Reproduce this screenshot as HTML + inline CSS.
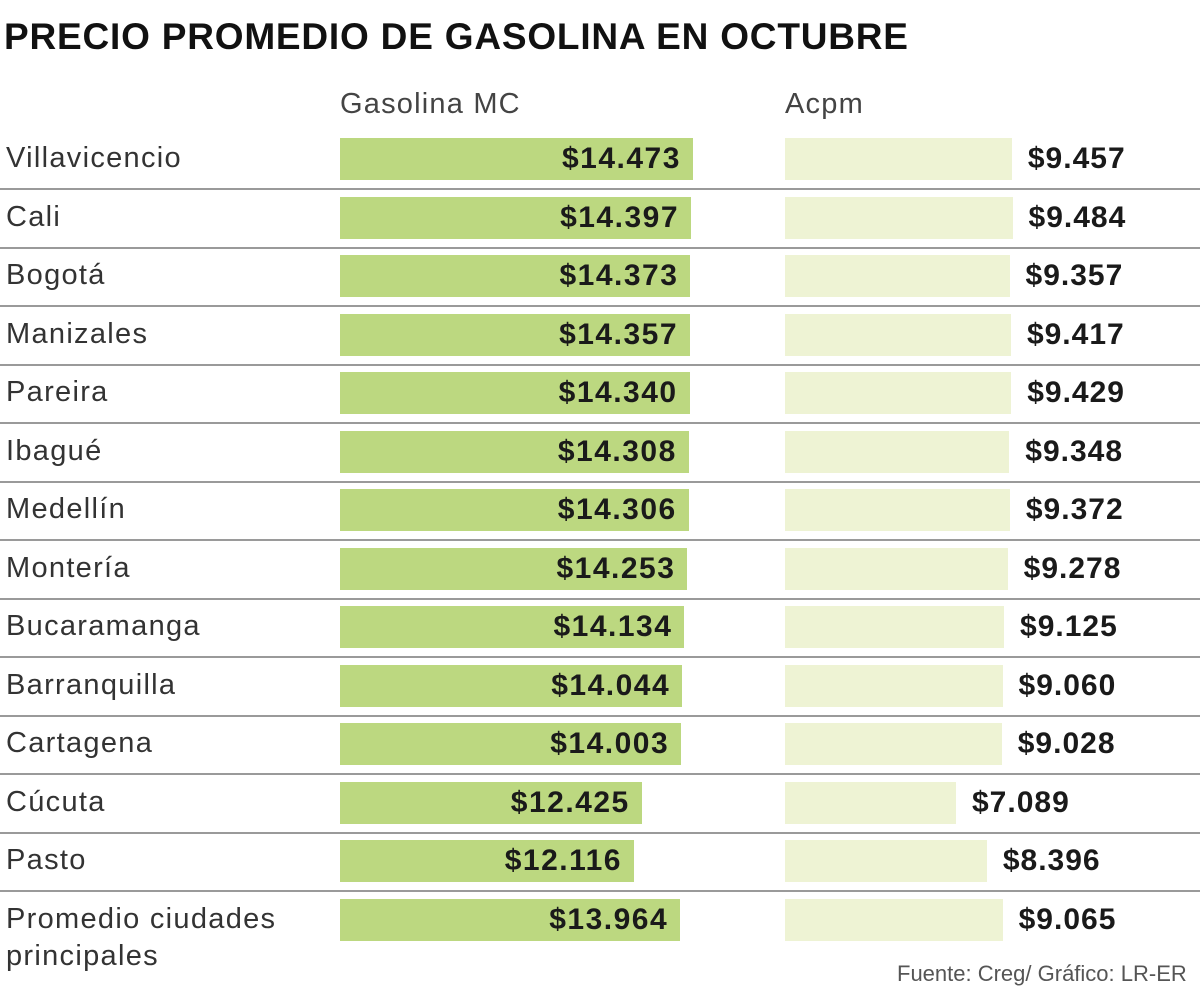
<!DOCTYPE html>
<html><head><meta charset="utf-8"><style>
body{margin:0;width:1200px;height:985px;background:#fff;overflow:hidden;position:relative;font-family:"Liberation Sans",sans-serif;}
.t{position:absolute;white-space:nowrap;}
.title{left:4px;top:16px;font-size:37px;font-weight:bold;color:#111;letter-spacing:0.8px;}
.hd{font-size:29px;color:#444;letter-spacing:1.2px;}
.lab{left:6px;font-size:29px;color:#333;letter-spacing:1.3px;}
.gb{position:absolute;left:340px;height:42px;background:#bcd880;}
.ab{position:absolute;left:785px;height:42px;background:#eef3d4;}
.gv{position:absolute;font-size:30px;font-weight:bold;color:#1a1a1a;text-align:right;letter-spacing:1.5px;}
.av{position:absolute;font-size:30px;font-weight:bold;color:#1a1a1a;letter-spacing:1px;}
.sep{position:absolute;left:0;width:1200px;height:2px;background:#9a9a9a;}
</style></head><body>
<div class="t title">PRECIO PROMEDIO DE GASOLINA EN OCTUBRE</div>
<div class="t hd" style="left:340px;top:88px">Gasolina MC</div>
<div class="t hd" style="left:785px;top:88px">Acpm</div>
<div id="c"></div>
<div class="t" style="left:897px;top:961px;font-size:22px;color:#555">Fuente: Creg/ Gráfico: LR-ER</div>
<script>
var d=[["Villavicencio",14.473,9.457],["Cali",14.397,9.484],["Bogotá",14.373,9.357],["Manizales",14.357,9.417],["Pareira",14.340,9.429],["Ibagué",14.308,9.348],["Medellín",14.306,9.372],["Montería",14.253,9.278],["Bucaramanga",14.134,9.125],["Barranquilla",14.044,9.060],["Cartagena",14.003,9.028],["Cúcuta",12.425,7.089],["Pasto",12.116,8.396],["Promedio ciudades",13.964,9.065]];
var h="";
function f(v){return "$"+v.toFixed(3);}
d.forEach(function(r,i){
var c=159+58.5*i;
var gr=634+(r[1]-12.116)*25;
var ar=956+(r[2]-7.089)*23.6;
h+='<div class="t lab" style="top:'+(c-17)+'px">'+r[0]+'</div>';
h+='<div class="gb" style="top:'+(c-21)+'px;width:'+(gr-340)+'px"></div>';
h+='<div class="gv" style="top:'+(c-17)+'px;left:300px;width:'+(gr-300-12)+'px">'+f(r[1])+'</div>';
h+='<div class="ab" style="top:'+(c-21)+'px;width:'+(ar-785)+'px"></div>';
h+='<div class="av" style="top:'+(c-17)+'px;left:'+(ar+16)+'px">'+f(r[2])+'</div>';
if(i<13)h+='<div class="sep" style="top:'+(c+29)+'px"></div>';
});
h+='<div class="t lab" style="top:940px">principales</div>';
document.getElementById("c").innerHTML=h;
</script>
</body></html>
